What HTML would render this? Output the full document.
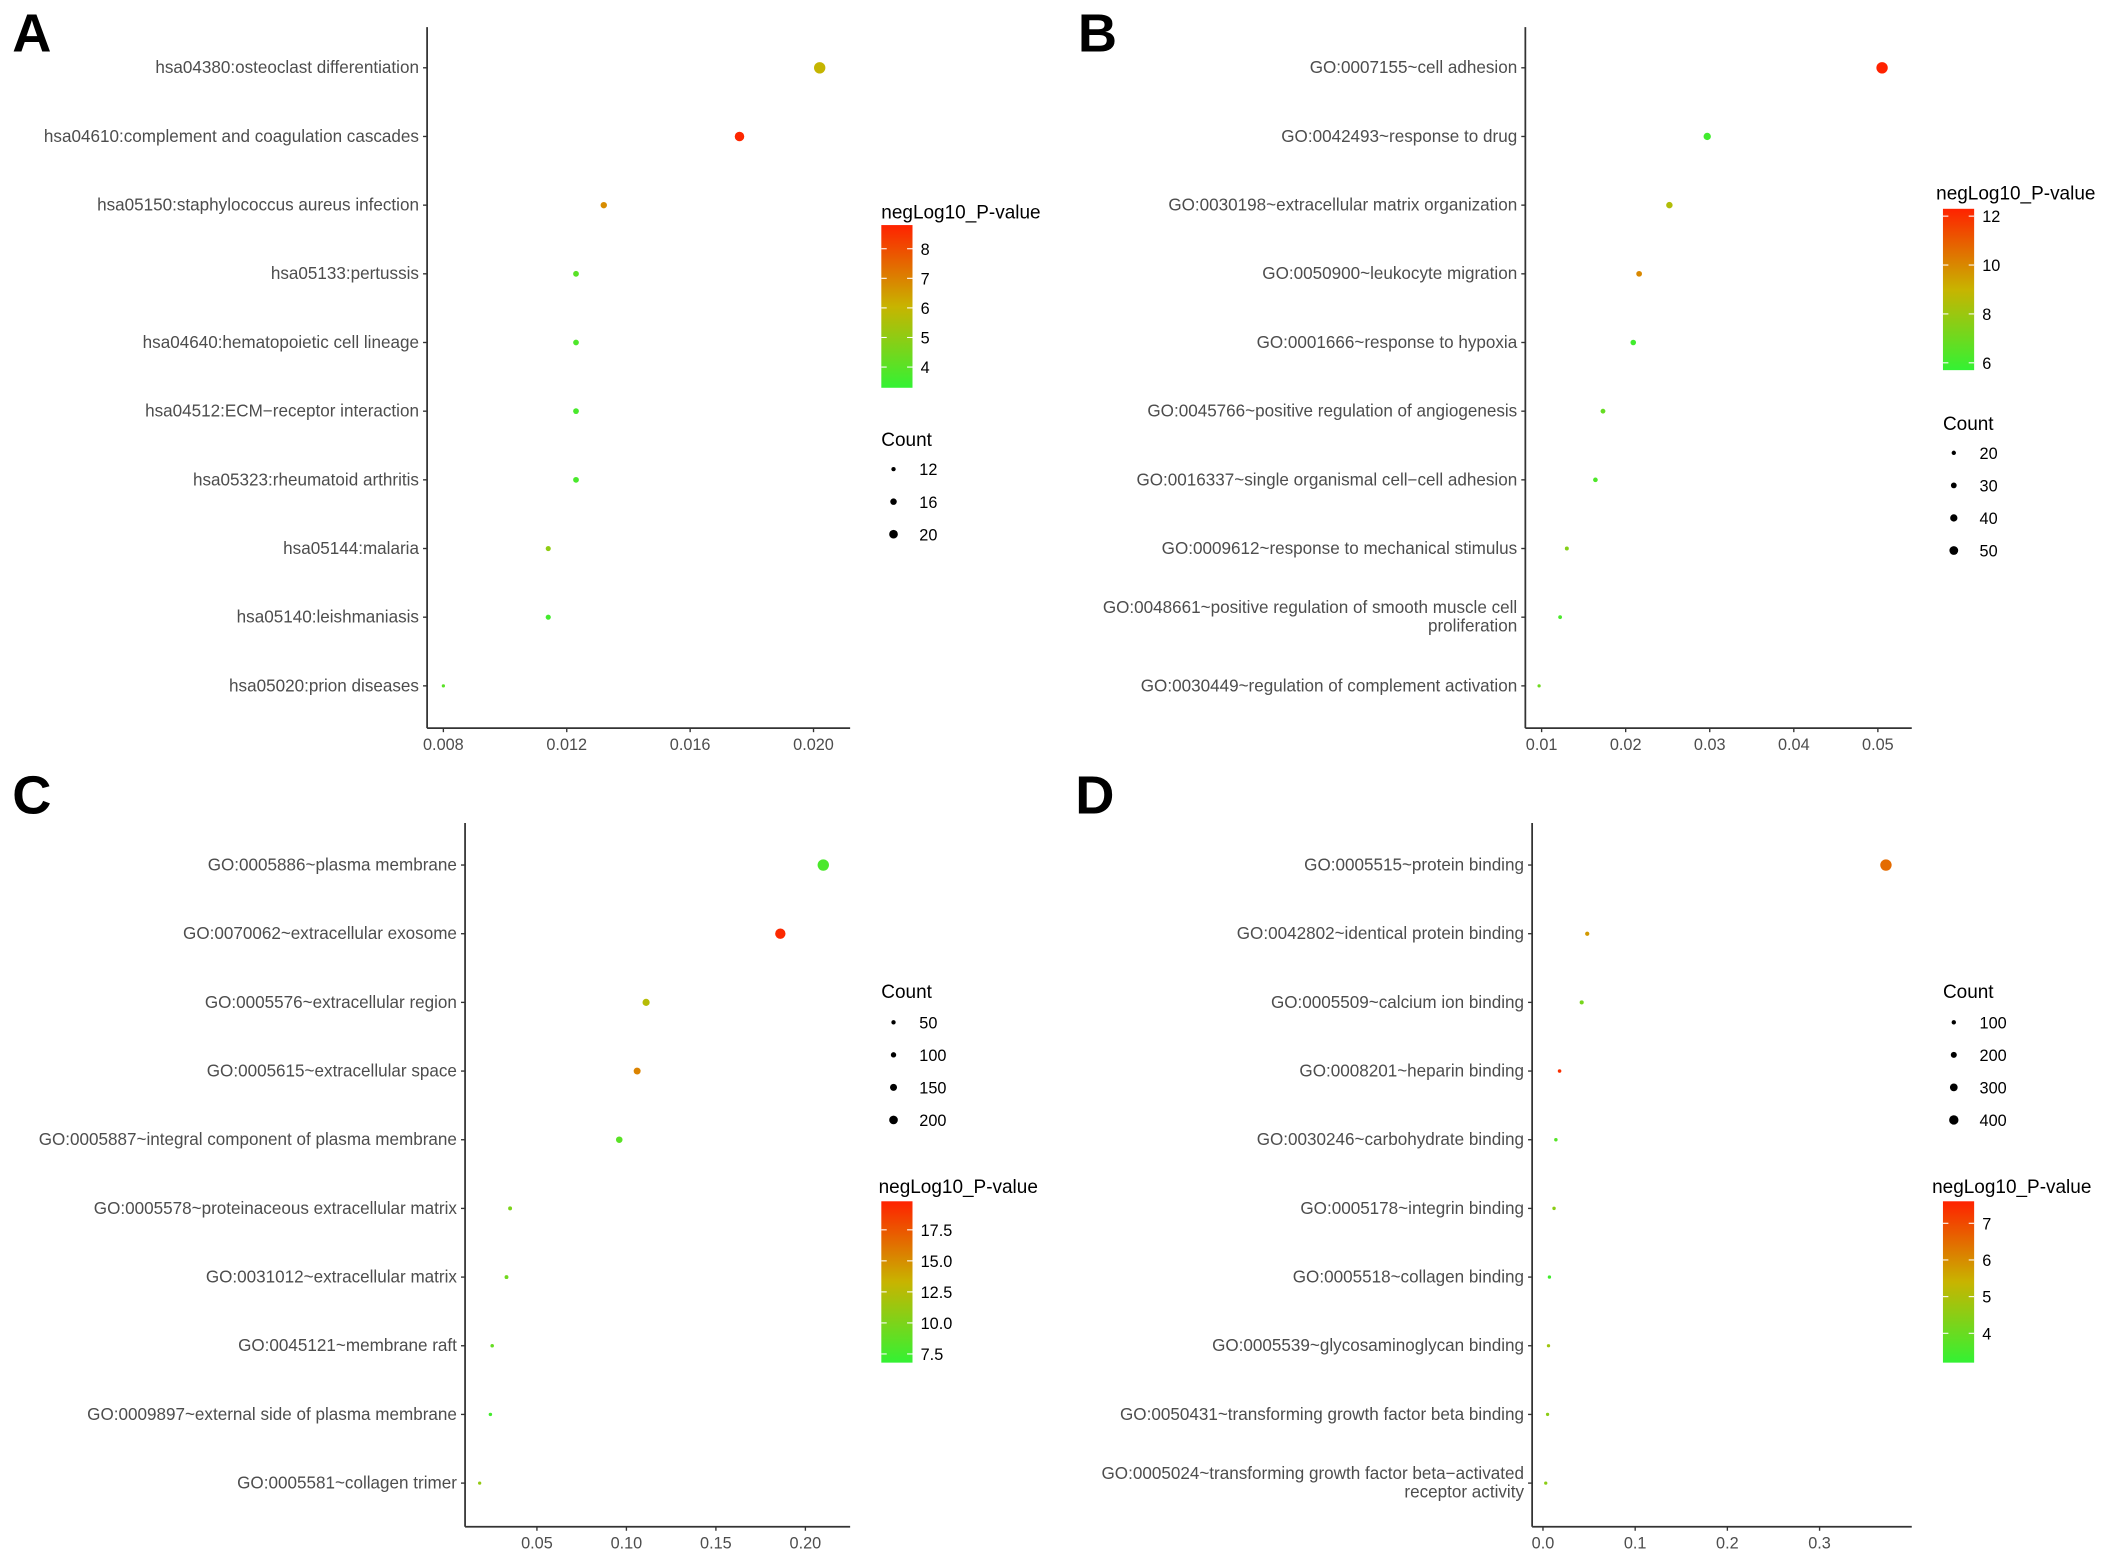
<!DOCTYPE html>
<html><head><meta charset="utf-8"><style>
html,body{margin:0;padding:0;background:#fff;}
svg{display:block;}
text{font-family:"Liberation Sans",sans-serif;}
</style></head>
<body>
<svg id="fig" width="2126" height="1561" viewBox="0 0 1568 1151.3" xmlns="http://www.w3.org/2000/svg">
<defs>
<linearGradient id="cg" x1="0" y1="1" x2="0" y2="0">
<stop offset="0" stop-color="#33f233"/>
<stop offset="0.5" stop-color="#c8b400"/>
<stop offset="1" stop-color="#ff2200"/>
</linearGradient>
</defs>
</svg>
<script>
// ---- Panel A data ----
const A_terms = ["hsa04380:osteoclast differentiation","hsa04610:complement and coagulation cascades","hsa05150:staphylococcus aureus infection","hsa05133:pertussis","hsa04640:hematopoietic cell lineage","hsa04512:ECM\u2212receptor interaction","hsa05323:rheumatoid arthritis","hsa05144:malaria","hsa05140:leishmaniasis","hsa05020:prion diseases"];
const A_x = [0.0202,0.0176,0.0132,0.0123,0.0123,0.0123,0.0123,0.0114,0.0114,0.0080];
const A_p = [6.0,8.7,6.8,4.0,3.8,3.7,3.7,5.0,3.6,4.0];
const A_count = [22,19,14,13,13,13,13,12,12,9];
const A_xticks = [0.008,0.012,0.016,0.020];
const A_xtickLabels = ["0.008","0.012","0.016","0.020"];
const A_cticks = [8,7,6,5,4];
const A_sticks = [12,16,20];

// ---- Panel B data ----
const B_terms = ["GO:0007155~cell adhesion","GO:0042493~response to drug","GO:0030198~extracellular matrix organization","GO:0050900~leukocyte migration","GO:0001666~response to hypoxia","GO:0045766~positive regulation of angiogenesis","GO:0016337~single organismal cell\u2212cell adhesion","GO:0009612~response to mechanical stimulus","GO:0048661~positive regulation of smooth muscle cell|proliferation","GO:0030449~regulation of complement activation"];
const B_x = [0.0505,0.0297,0.0252,0.0216,0.0209,0.0173,0.0164,0.0130,0.0122,0.0097];
const B_p = [12.3,6.0,8.5,10.0,6.0,6.8,6.3,7.5,6.2,7.0];
const B_count = [56,33,28,24,23,19,18,14,13,10];
const B_xticks = [0.01,0.02,0.03,0.04,0.05];
const B_xtickLabels = ["0.01","0.02","0.03","0.04","0.05"];
const B_cticks = [12,10,8,6];
const B_sticks = [20,30,40,50];

// ---- Panel C data ----
const C_terms = ["GO:0005886~plasma membrane","GO:0070062~extracellular exosome","GO:0005576~extracellular region","GO:0005615~extracellular space","GO:0005887~integral component of plasma membrane","GO:0005578~proteinaceous extracellular matrix","GO:0031012~extracellular matrix","GO:0045121~membrane raft","GO:0009897~external side of plasma membrane","GO:0005581~collagen trimer"];
const C_x = [0.210,0.186,0.111,0.106,0.096,0.035,0.033,0.025,0.024,0.018];
const C_p = [7.8,19.5,12.5,15.5,8.5,10.0,9.5,9.0,7.5,11.0];
const C_count = [232,205,122,117,106,38,36,27,26,20];
const C_xticks = [0.05,0.10,0.15,0.20];
const C_xtickLabels = ["0.05","0.10","0.15","0.20"];
const C_cticks = [17.5,15.0,12.5,10.0,7.5];
const C_cLabels = ["17.5","15.0","12.5","10.0","7.5"];
const C_sticks = [50,100,150,200];

// ---- Panel D data ----
const D_terms = ["GO:0005515~protein binding","GO:0042802~identical protein binding","GO:0005509~calcium ion binding","GO:0008201~heparin binding","GO:0030246~carbohydrate binding","GO:0005178~integrin binding","GO:0005518~collagen binding","GO:0005539~glycosaminoglycan binding","GO:0050431~transforming growth factor beta binding","GO:0005024~transforming growth factor beta\u2212activated|receptor activity"];
const D_x = [0.372,0.048,0.042,0.018,0.014,0.012,0.007,0.006,0.005,0.003];
const D_p = [6.5,5.8,4.2,7.4,3.7,4.5,3.4,4.8,4.5,4.5];
const D_count = [420,55,48,21,16,14,8,7,6,4];
const D_xticks = [0.0,0.1,0.2,0.3];
const D_xtickLabels = ["0.0","0.1","0.2","0.3"];
const D_cticks = [7,6,5,4];
const D_sticks = [100,200,300,400];

const svg = document.getElementById('fig');
const NS = 'http://www.w3.org/2000/svg';
function mk(tag, attrs, parent){
  const e = document.createElementNS(NS, tag);
  for (const k in attrs) e.setAttribute(k, attrs[k]);
  (parent||svg).appendChild(e);
  return e;
}
function lerp(a,b,t){return a+(b-a)*t;}
function colorFor(v, lo, hi){
  let t = Math.max(0, Math.min(1, (v-lo)/(hi-lo)));
  const stops = [[0x33,0xf2,0x33],[0xc8,0xb4,0x00],[0xff,0x22,0x00]];
  let c;
  if (t<0.5){const u=t/0.5;c=stops[0].map((s,i)=>lerp(s,stops[1][i],u));}
  else {const u=(t-0.5)/0.5;c=stops[1].map((s,i)=>lerp(s,stops[2][i],u));}
  return 'rgb('+c.map(Math.round).join(',')+')';
}

function panel(cfg){
  const g = mk('g', {});
  
  
  const L = mk('text', {x:cfg.lx, y:cfg.ly, 'font-size':40, 'font-weight':'bold', fill:'#000'}, g);
  
  
  L.textContent = cfg.letter;
  const xs = v => cfg.px0 + (v - cfg.xd0)/(cfg.xd1-cfg.xd0)*(cfg.px1-cfg.px0);
  const ys = i => cfg.y0 + i*cfg.step;
  const yax = mk('line', {x1:cfg.ax, y1:cfg.top, x2:cfg.ax, y2:cfg.bot, stroke:'#333', 'stroke-width':1.3}, g);
  
  
  const xax = mk('line', {x1:cfg.ax, y1:cfg.bot, x2:cfg.right, y2:cfg.bot, stroke:'#333', 'stroke-width':1.3}, g);
  
  
  cfg.xticks.forEach((v,i)=>{
    const x = xs(v);
    mk('line', {x1:x, y1:cfg.bot, x2:x, y2:cfg.bot+3, stroke:'#333', 'stroke-width':1}, g);
    const t = mk('text', {x:x, y:cfg.bot+16, 'font-size':12, fill:'#4d4d4d', 'text-anchor':'middle'}, g);
    
    
    t.textContent = cfg.xlabels[i];
  });
  cfg.terms.forEach((term,i)=>{
    const y = ys(i);
    mk('line', {x1:cfg.ax-3, y1:y, x2:cfg.ax, y2:y, stroke:'#333', 'stroke-width':1}, g);
    const parts = term.split('|');
    const t = mk('text', {x:cfg.ax-6, y: parts.length>1 ? y-3 : y+4, 'font-size':12.6, fill:'#4d4d4d', 'text-anchor':'end'}, g);
    
    
    parts.forEach((p,k)=>{
      const ts = mk('tspan', {x:cfg.ax-6, dy: k===0?0:13.5}, t);
      ts.textContent = p;
    });
  });
  const rOf = c => 1.2 + 3.0*(c - cfg.sd0)/(cfg.sd1 - cfg.sd0);
  cfg.x.forEach((v,i)=>{
    const c = mk('circle', {cx:xs(v), cy:ys(i), r:Math.max(1.1, rOf(cfg.count[i])), fill:colorFor(cfg.p[i], cfg.cd0, cfg.cd1)}, g);
    
    
  });
  const cb = cfg.cbar;
  const ct = mk('text', {x:cb.tx, y:cb.ty, 'font-size':14, fill:'#000'}, g);
  
  
  ct.textContent = 'negLog10_P-value';
  const rect = mk('rect', {x:cb.x, y:cb.y0, width:23, height:cb.y1-cb.y0, fill:'url(#cg)'}, g);
  
  
  cfg.cticks.forEach((v,i)=>{
    const y = cb.y1 - (v - cfg.cd0)/(cfg.cd1-cfg.cd0)*(cb.y1-cb.y0);
    mk('line', {x1:cb.x, y1:y, x2:cb.x+4, y2:y, stroke:'#fff', 'stroke-width':0.8}, g);
    mk('line', {x1:cb.x+19, y1:y, x2:cb.x+23, y2:y, stroke:'#fff', 'stroke-width':0.8}, g);
    const t = mk('text', {x:cb.x+29, y:y+4.5, 'font-size':12, fill:'#000'}, g);
    
    
    t.textContent = cfg.clabels ? cfg.clabels[i] : String(v);
  });
  const sl = cfg.sleg;
  const st = mk('text', {x:sl.tx, y:sl.ty, 'font-size':14, fill:'#000'}, g);
  
  
  st.textContent = 'Count';
  cfg.sticks.forEach((v,i)=>{
    const y = sl.y0 + i*24;
    const c = mk('circle', {cx:sl.dx, cy:y, r:Math.max(1.6, rOf(v)*0.85), fill:'#000'}, g);
    
    
    const t = mk('text', {x:sl.dx+19, y:y+4.5, 'font-size':12, fill:'#000'}, g);
    
    
    t.textContent = String(v);
  });
}

panel({letter:'A', lx:9, ly:38, ax:315, top:20, bot:537, right:627, y0:50, step:50.65,
  xd0:0.008, xd1:0.020, px0:327, px1:600, terms:A_terms, x:A_x, p:A_p, count:A_count,
  xticks:A_xticks, xlabels:A_xtickLabels, cd0:3.3, cd1:8.8, cticks:A_cticks, sd0:9, sd1:22, sticks:A_sticks,
  cbar:{tx:650, ty:161, x:650, y0:166, y1:286}, sleg:{tx:650, ty:329, y0:346, dx:659}});
panel({letter:'B', lx:795, ly:38, ax:1125, top:20, bot:537, right:1410, y0:50, step:50.65,
  xd0:0.01, xd1:0.05, px0:1137, px1:1385, terms:B_terms, x:B_x, p:B_p, count:B_count,
  xticks:B_xticks, xlabels:B_xtickLabels, cd0:5.7, cd1:12.3, cticks:B_cticks, sd0:10, sd1:56, sticks:B_sticks,
  cbar:{tx:1428, ty:147, x:1433, y0:154, y1:273}, sleg:{tx:1433, ty:317, y0:334, dx:1441}});
panel({letter:'C', lx:9, ly:600, ax:343, top:607, bot:1126, right:627, y0:638, step:50.65,
  xd0:0.05, xd1:0.20, px0:396, px1:594, terms:C_terms, x:C_x, p:C_p, count:C_count,
  xticks:C_xticks, xlabels:C_xtickLabels, cd0:6.8, cd1:19.8, cticks:C_cticks, clabels:C_cLabels, sd0:20, sd1:232, sticks:C_sticks,
  cbar:{tx:648, ty:880, x:650, y0:886, y1:1005}, sleg:{tx:650, ty:736, y0:754, dx:659}});
panel({letter:'D', lx:793, ly:600, ax:1130, top:607, bot:1126, right:1410, y0:638, step:50.65,
  xd0:0.0, xd1:0.3, px0:1138, px1:1342, terms:D_terms, x:D_x, p:D_p, count:D_count,
  xticks:D_xticks, xlabels:D_xtickLabels, cd0:3.2, cd1:7.6, cticks:D_cticks, sd0:4, sd1:420, sticks:D_sticks,
  cbar:{tx:1425, ty:880, x:1433, y0:886, y1:1005}, sleg:{tx:1433, ty:736, y0:754, dx:1441}});
</script>
</body></html>
